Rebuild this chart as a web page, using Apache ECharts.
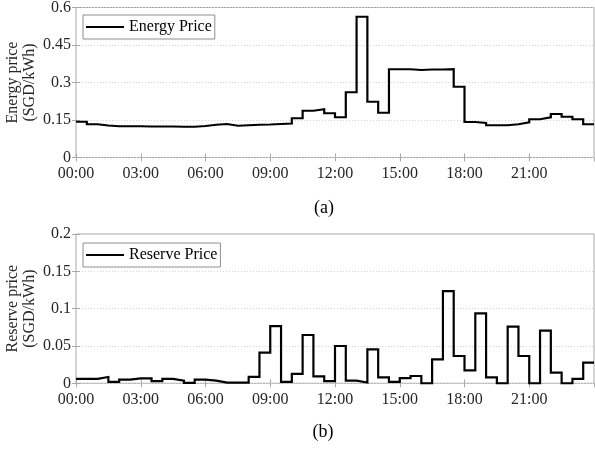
<!DOCTYPE html>
<html>
<head>
<meta charset="utf-8">
<script src="https://cdn.jsdelivr.net/npm/echarts@6/dist/echarts.min.js"></script>
<style>
  html, body { margin: 0; padding: 0; background: #fff; }
  #chart { width: 595px; height: 452px; }
</style>
</head>
<body>
<div id="chart"></div>
<script>
// Half-hourly prices over one day (value at each slot start, held for 30 min)
const slotHours = [
  0, 0.5, 1, 1.5, 2, 2.5, 3, 3.5, 4, 4.5, 5, 5.5,
  6, 6.5, 7, 7.5, 8, 8.5, 9, 9.5, 10, 10.5, 11, 11.5,
  12, 12.5, 13, 13.5, 14, 14.5, 15, 15.5, 16, 16.5, 17, 17.5,
  18, 18.5, 19, 19.5, 20, 20.5, 21, 21.5, 22, 22.5, 23, 23.5
];
const dayEndHour = 24;

const energyPrice = [
  0.143, 0.133, 0.128, 0.125, 0.125, 0.125, 0.124, 0.124, 0.124, 0.123, 0.123, 0.126,
  0.131, 0.134, 0.127, 0.129, 0.131, 0.132, 0.134, 0.136, 0.157, 0.187, 0.193, 0.177,
  0.161, 0.261, 0.563, 0.223, 0.179, 0.353, 0.353, 0.350, 0.352, 0.352, 0.353, 0.283,
  0.142, 0.138, 0.129, 0.129, 0.133, 0.141, 0.153, 0.161, 0.174, 0.163, 0.153, 0.133
];

const reservePrice = [
  0.006, 0.006, 0.0085, 0.002, 0.005, 0.0067, 0.0067, 0.003, 0.006, 0.0035, 0.0007, 0.005,
  0.0035, 0.001, 0.001, 0.001, 0.0085, 0.041, 0.0767, 0.002, 0.0125, 0.0647, 0.0093, 0.003,
  0.050, 0.0035, 0.001, 0.0455, 0.008, 0.002, 0.007, 0.0098, 0.0, 0.032, 0.1236, 0.0366,
  0.0174, 0.0937, 0.008, 0.0, 0.0759, 0.0366, 0.0, 0.0705, 0.0143, 0.0, 0.0058, 0.0276
];

const energyTicks = { min: 0, max: 0.6, interval: 0.15 };
const reserveTicks = { min: 0, max: 0.2, interval: 0.05 };
const hourTicks = { min: 0, max: 24, interval: 3 };

const energyName = 'Energy Price';
const reserveName = 'Reserve Price';
const energyAxisName = 'Energy price\n(SGD/kWh)';
const reserveAxisName = 'Reserve price\n(SGD/kWh)';
const panelLabels = ['(a)', '(b)'];

const FONT = "'Liberation Serif', 'DejaVu Serif', serif";
const TEXT = '#262626';
const FRAME = '#a8a8a8';

// stairs: hold each value until the next slot, last one until end of day
function stairs(values) {
  const pts = values.map((v, i) => [slotHours[i], v]);
  pts.push([dayEndHour, values[values.length - 1]]);
  return pts;
}

function hhmm(h) {
  return String(h).padStart(2, '0') + ':00';
}

function fmtY(v) {
  return String(+v.toFixed(3));
}

const grids = [
  { left: 76, right: 1, top: 7.5, height: 150 },
  { left: 76, right: 1, top: 234, height: 149.3 }
].map(g => Object.assign({
  show: true, borderColor: FRAME, borderWidth: 1,
  backgroundColor: '#fff', containLabel: false, outerBoundsMode: 'none'
}, g));

function xAxesFor(gi) {
  return [
    {
      type: 'value', gridIndex: gi, position: 'bottom',
      min: hourTicks.min, max: hourTicks.max, interval: hourTicks.interval,
      axisLine: { show: false },
      axisTick: { show: true, inside: true, length: 4, lineStyle: { color: FRAME } },
      splitLine: { show: false },
      axisLabel: {
        show: true, margin: 8, color: TEXT, fontFamily: FONT, fontSize: 16,
        showMaxLabel: false, formatter: hhmm
      }
    },
    {
      type: 'value', gridIndex: gi, position: 'top',
      min: hourTicks.min, max: hourTicks.max, interval: hourTicks.interval,
      axisLine: { show: false },
      axisTick: { show: true, inside: true, length: 4, lineStyle: { color: FRAME } },
      splitLine: { show: false },
      axisLabel: { show: false }
    }
  ];
}

function yAxesFor(gi, ticks, name) {
  return [
    {
      type: 'value', gridIndex: gi, position: 'left',
      min: ticks.min, max: ticks.max, interval: ticks.interval,
      name: name, nameLocation: 'middle', nameGap: 38, nameRotate: 90,
      nameMoveOverlap: false,
      nameTextStyle: { color: TEXT, fontFamily: FONT, fontSize: 16, lineHeight: 17 },
      axisLine: { show: false },
      axisTick: { show: true, inside: true, length: 4, lineStyle: { color: FRAME } },
      splitLine: { show: true, lineStyle: { color: '#d4d4d4', type: [1, 2], width: 1 } },
      axisLabel: { show: true, margin: 5, color: TEXT, fontFamily: FONT, fontSize: 16, formatter: fmtY }
    },
    {
      type: 'value', gridIndex: gi, position: 'right',
      min: ticks.min, max: ticks.max, interval: ticks.interval,
      axisLine: { show: false },
      axisTick: { show: true, inside: true, length: 4, lineStyle: { color: FRAME } },
      splitLine: { show: false },
      axisLabel: { show: false }
    }
  ];
}

function legendFor(top, name) {
  return {
    data: [name], left: 83, top: top, orient: 'horizontal',
    icon: 'rect', itemWidth: 38, itemHeight: 2,
    padding: [3, 3, 3, 3],
    backgroundColor: '#fff', borderColor: '#8f8f8f', borderWidth: 1,
    textStyle: { color: '#000', fontFamily: FONT, fontSize: 16, lineHeight: 18 },
    selectedMode: false
  };
}

function stepSeries(name, values, xi, yi) {
  return {
    name: name, type: 'line', step: 'end',
    xAxisIndex: xi, yAxisIndex: yi,
    data: stairs(values),
    symbol: 'none', color: '#000',
    lineStyle: { color: '#000', width: 2.2, join: 'miter' },
    animation: false, clip: true
  };
}

const chart = echarts.init(document.getElementById('chart'), null, { renderer: 'canvas' });
chart.setOption({
  animation: false,
  backgroundColor: '#fff',
  grid: grids,
  xAxis: [...xAxesFor(0), ...xAxesFor(1)],
  yAxis: [...yAxesFor(0, energyTicks, energyAxisName), ...yAxesFor(1, reserveTicks, reserveAxisName)],
  legend: [legendFor(15, energyName), legendFor(243, reserveName)],
  series: [
    stepSeries(energyName, energyPrice, 0, 0),
    stepSeries(reserveName, reservePrice, 2, 2)
  ],
  graphic: [
    { type: 'text', x: 324, y: 208, style: { text: panelLabels[0], fill: '#000', font: '18px ' + FONT, textAlign: 'center', textVerticalAlign: 'middle' } },
    { type: 'text', x: 323, y: 432, style: { text: panelLabels[1], fill: '#000', font: '18px ' + FONT, textAlign: 'center', textVerticalAlign: 'middle' } }
  ]
});
</script>
</body>
</html>
